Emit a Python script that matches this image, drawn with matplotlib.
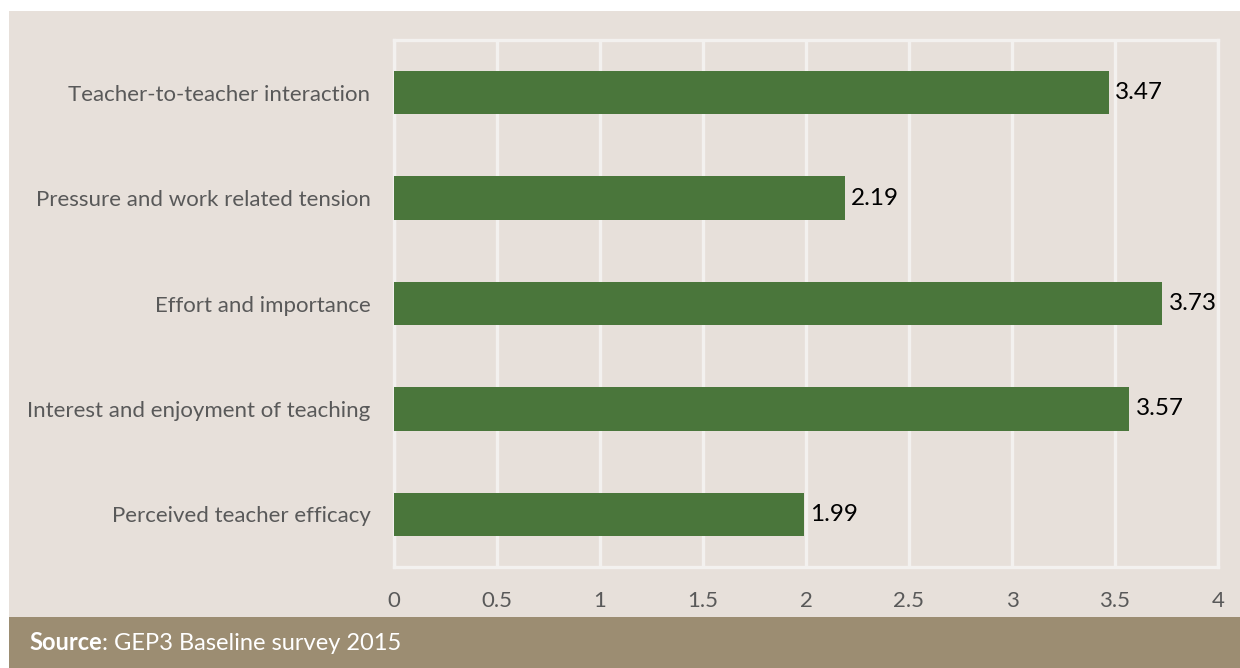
import matplotlib
matplotlib.use("Agg")
import matplotlib.pyplot as plt
from matplotlib.patches import Rectangle

categories = ["Teacher-to-teacher interaction", "Pressure and work related tension",
              "Effort and importance", "Interest and enjoyment of teaching",
              "Perceived teacher efficacy"]
values = [3.47, 2.19, 3.73, 3.57, 1.99]
xticks = [0, 0.5, 1, 1.5, 2, 2.5, 3, 3.5, 4]
xtick_labels = ["0", "0.5", "1", "1.5", "2", "2.5", "3", "3.5", "4"]

W, H = 1240, 668
plt.rcParams['font.family'] = ['Lato', 'DejaVu Sans']
fig = plt.figure(figsize=(W / 100, H / 100), dpi=100)
fig.patch.set_facecolor("white")

bg = "#e7e0da"
footer = "#9c8d72"
fig.patches.append(Rectangle((9 / W, (H - 617) / H), 1 - 9 / W, (617 - 11) / H,
                             transform=fig.transFigure, facecolor=bg, edgecolor="none", zorder=-5))
fig.patches.append(Rectangle((9 / W, 0), 1 - 9 / W, (H - 617) / H,
                             transform=fig.transFigure, facecolor=footer, edgecolor="none", zorder=-5))
t1 = fig.text(29 / W, (H - 643) / H, "Source", color="white", fontsize=17,
              fontweight="bold", va="center", ha="left")
fig.canvas.draw()
bb = t1.get_window_extent()
fig.text(bb.x1 / W, (H - 643) / H, ": GEP3 Baseline survey 2015", color="white",
         fontsize=17, va="center", ha="left")

ax = fig.add_axes([394 / W, (H - 567) / H, (1218 - 394) / W, (567 - 40) / H], zorder=2)
ax.set_facecolor("none")
n = len(categories)
ypos = list(range(n))[::-1]
ax.barh(ypos, values, height=0.41, color="#4a763b", zorder=3)
for y, v in zip(ypos, values):
    ax.text(v + 0.03, y, f"{v:.2f}", va="center", ha="left", fontsize=17.5, color="black")

ax.set_xlim(0, 4)
ax.set_ylim(-0.5, n - 0.5)
ax.set_xticks(xticks)
ax.set_xticklabels(xtick_labels)
ax.set_yticks(ypos)
ax.set_yticklabels(categories)
ax.tick_params(axis="both", length=0, labelsize=16, labelcolor="#595959")
ax.tick_params(axis="x", pad=17)
ax.tick_params(axis="y", pad=17)
ax.grid(axis="x", color="#f3f1ef", linewidth=2.4, zorder=1)
for s in ax.spines.values():
    s.set_color("#f3f1ef")
    s.set_linewidth(2.4)

fig.savefig("out.png", dpi=100, facecolor=fig.get_facecolor())
